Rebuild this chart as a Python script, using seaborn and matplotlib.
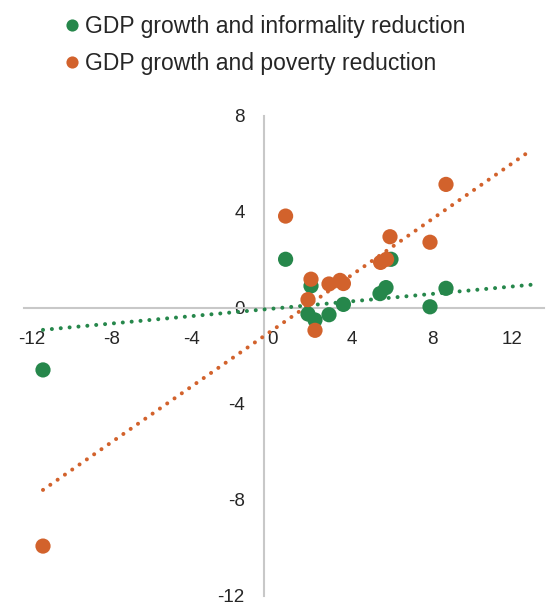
import matplotlib
matplotlib.use("Agg")
import matplotlib.pyplot as plt
import matplotlib.transforms as mtransforms
import numpy as np
import pandas as pd
import seaborn as sns

# GDP growth vs. informality reduction (percentage points)
informality_growth = [-11.05, 1.08, 2.35, 2.2, 2.55, 3.25, 3.97, 5.8, 6.1, 6.35, 8.3, 9.1]
informality_change = [-2.58, 2.03, 0.92, -0.25, -0.5, -0.28, 0.15, 0.6, 0.85, 2.03, 0.05, 0.82]

# GDP growth vs. poverty reduction (percentage points)
poverty_growth = [-11.05, 1.08, 2.35, 2.2, 2.55, 3.25, 3.8, 3.97, 5.83, 6.13, 6.3, 8.3, 9.1]
poverty_change = [-9.92, 3.83, 1.2, 0.35, -0.93, 1.0, 1.15, 1.02, 1.9, 2.03, 2.97, 2.74, 5.15]

# Linear trend lines (slope, intercept) and the growth range they cover
informality_trend = [0.077, -0.06]
poverty_trend = [0.58, -1.17]
trend_range = [-11.05, 13.4]

series_names = ["GDP growth and informality reduction", "GDP growth and poverty reduction"]
series_colors = ["#26874B", "#D2622C"]

x_ticks = [-12, -8, -4, 0, 4, 8, 12]
y_ticks = [-12, -8, -4, 0, 4, 8]

df = pd.concat([
    pd.DataFrame({"growth": informality_growth, "change": informality_change,
                  "series": series_names[0]}),
    pd.DataFrame({"growth": poverty_growth, "change": poverty_change,
                  "series": series_names[1]}),
], ignore_index=True)

sns.set_theme(style="white")
plt.rcParams["font.family"] = ["Liberation Sans", "DejaVu Sans"]
plt.rcParams["axes.unicode_minus"] = False

fig = plt.figure(figsize=(5.56, 6.05), dpi=100)
ax = fig.add_axes([24 / 556, 1 - 596 / 605, 520 / 556, 480 / 605])

axis_grey = "#C8C8C8"
text_col = "#262626"

# dotted trend lines
xs = np.array(trend_range)
for (slope, icpt), col in zip([informality_trend, poverty_trend], series_colors):
    ax.plot(xs, slope * xs + icpt, color=col, linewidth=2.9,
            linestyle=(0, (0.01, 2.2)), dash_capstyle="round", zorder=2)

sns.scatterplot(data=df, x="growth", y="change", hue="series",
                hue_order=series_names, palette=series_colors,
                s=120, linewidth=0, alpha=1, ax=ax, zorder=3, clip_on=False)

ax.set_xlim(-12, 14)
ax.set_ylim(-12, 8)
ax.set_xticks(x_ticks)
ax.set_yticks(y_ticks)
ax.set_xlabel("")
ax.set_ylabel("")

for side in ["top", "right"]:
    ax.spines[side].set_visible(False)
for side in ["left", "bottom"]:
    ax.spines[side].set_position(("data", 0))
    ax.spines[side].set_color(axis_grey)
    ax.spines[side].set_linewidth(1.5)
    ax.spines[side].set_zorder(1)

ax.tick_params(axis="x", length=0, pad=16.5, labelsize=13.5, labelcolor=text_col)
ax.tick_params(axis="y", length=0, pad=14, labelsize=13.5, labelcolor=text_col)
ax.set_facecolor("none")

# x labels sit a little to the right of their ticks
shift = mtransforms.ScaledTranslation(8 / 100, 0, fig.dpi_scale_trans)
for lbl in ax.get_xticklabels():
    lbl.set_transform(lbl.get_transform() + shift)

sns.move_legend(ax, loc="upper left", bbox_to_anchor=(65 / 556, 1 - 15 / 605),
                bbox_transform=fig.transFigure,
                frameon=False, title=None, fontsize=16.5, labelspacing=0.62,
                handlelength=0.6, handletextpad=0.27, borderaxespad=0, borderpad=0,
                markerscale=0.8)
for t in ax.get_legend().get_texts():
    t.set_color(text_col)

fig.savefig("out.png", dpi=100)
